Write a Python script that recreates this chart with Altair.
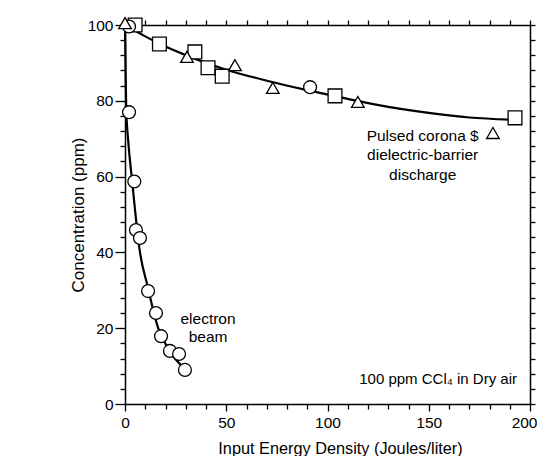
import altair as alt
import pandas as pd

# --- data ---
sq_x = [5, 17, 34.5, 41, 48, 103.7, 192.6]
sq_y = [100, 95, 92.9, 88.7, 86.5, 81.3, 75.5]

tri_x = [0, 30.6, 54.3, 73, 115, 181.7]
tri_y = [100.5, 91.6, 89.4, 83.4, 79.7, 71.5]

circ_x = [2, 91.4]
circ_y = [99.6, 83.6]

eb_x = [2, 4.6, 5.4, 7.4, 11.4, 15.3, 17.8, 22.2, 26.7, 29.6]
eb_y = [77, 58.7, 45.9, 43.8, 29.8, 24, 17.9, 14, 13.2, 9]

fit_up_x = [0, 10, 20, 35, 50, 70, 90, 110, 130, 150, 170, 192]
fit_up_y = [100, 97, 94.3, 91, 88.2, 85.3, 82.8, 80.5, 78.4, 76.8, 75.6, 75]

fit_eb_x = [0, 0.3, 0.6, 1.5, 3.3, 7.4, 11.2, 16.4, 22, 30]
fit_eb_y = [100, 88, 78, 70, 60, 40, 31, 20, 14, 9]

x_ticks = list(range(0, 201, 10))
y_ticks = list(range(0, 101, 4))

notes_text = ["Pulsed corona $", "dielectric-barrier", "discharge",
              "electron", "beam"]
notes_x = [147, 147, 147, 41, 41]
notes_y = [70.7, 65.7, 60.4, 22.4, 17.7]

corner_text = ["100 ppm CCl\u2084 in Dry air"]
corner_x = [193.6]
corner_y = [6.6]

FONT = "Liberation Sans"

xs = alt.Scale(domain=[0, 200], nice=False, zero=False)
ys = alt.Scale(domain=[0, 100], nice=False, zero=False)

common = dict(grid=False, domainColor="black", tickColor="black",
              domainWidth=1.5, tickWidth=1.3)

x_bottom = alt.Axis(
    orient="bottom", values=x_ticks, title="Input Energy Density (Joules/liter)",
    labelExpr="datum.value % 50 === 0 ? datum.label : ''",
    tickSize={"condition": {"test": "datum.value % 50 === 0", "value": 7}, "value": 5},
    labelAlign={"condition": {"test": "datum.value === 200", "value": "right"}, "value": "center"},
    labelOffset={"condition": {"test": "datum.value === 200", "value": 7}, "value": 0},
    labelColor="black", titleColor="black", labelFont=FONT, titleFont=FONT,
    labelFontSize=15.5, titleFontSize=16.3, titleFontWeight="normal",
    labelPadding=4, titlePadding=10, labelFlush=False, labelOverlap=False,
    labelBound=False, titleX=215, titleAnchor="middle", **common,
)
y_left = alt.Axis(
    orient="left", values=y_ticks, title="Concentration (ppm)",
    labelExpr="datum.value % 20 === 0 ? datum.label : ''",
    tickSize={"condition": {"test": "datum.value % 20 === 0", "value": 10}, "value": 5},
    labelColor="black", titleColor="black", labelFont=FONT, titleFont=FONT,
    labelFontSize=15.5, titleFontSize=17, titleFontWeight="normal",
    labelPadding=2, titlePadding=0, labelFlush=False, labelOverlap=False,
    labelBound=False, **common,
)
x_top = alt.Axis(orient="top", values=x_ticks, labels=False, title=None,
                 tickSize=5, **common)
y_right = alt.Axis(orient="right", values=y_ticks, labels=False, title=None,
                   tickSize=5, **common)

up_fit = pd.DataFrame({"x": fit_up_x, "y": fit_up_y})
eb_fit = pd.DataFrame({"x": fit_eb_x, "y": fit_eb_y})
sq = pd.DataFrame({"x": sq_x, "y": sq_y})
tri = pd.DataFrame({"x": tri_x, "y": tri_y})
circ = pd.DataFrame({"x": circ_x + eb_x, "y": circ_y + eb_y})
notes = pd.DataFrame({"x": notes_x, "y": notes_y, "t": notes_text})
corner = pd.DataFrame({"x": corner_x, "y": corner_y, "t": corner_text})

X = alt.X("x:Q", scale=xs, axis=None)
Y = alt.Y("y:Q", scale=ys, axis=None)

axes_bl = alt.Chart(up_fit).mark_point(opacity=0).encode(
    x=alt.X("x:Q", scale=xs, axis=x_bottom),
    y=alt.Y("y:Q", scale=ys, axis=y_left),
)
axes_tr = alt.Chart(up_fit).mark_point(opacity=0).encode(
    x=alt.X("x:Q", scale=xs, axis=x_top),
    y=alt.Y("y:Q", scale=ys, axis=y_right),
)

up_line = alt.Chart(up_fit).mark_line(
    color="black", strokeWidth=2.2, interpolate="monotone"
).encode(x=X, y=Y)

eb_line = alt.Chart(eb_fit).mark_line(
    color="black", strokeWidth=2.2, interpolate="monotone"
).encode(x=X, y=Y)

sq_pts = alt.Chart(sq).mark_point(
    shape="square", filled=True, fill="white", stroke="black",
    strokeWidth=1.3, size=190, opacity=1
).encode(x=X, y=Y)

tri_pts = alt.Chart(tri).mark_point(
    shape="triangle-up", filled=True, fill="white", stroke="black",
    strokeWidth=1.3, size=160, opacity=1
).encode(x=X, y=Y)

circ_pts = alt.Chart(circ).mark_point(
    shape="circle", filled=True, fill="white", stroke="black",
    strokeWidth=1.3, size=165, opacity=1
).encode(x=X, y=Y)

note_marks = alt.Chart(notes).mark_text(
    font=FONT, fontSize=15.5, color="black", align="center", baseline="middle"
).encode(x=X, y=Y, text="t:N")

corner_mark = alt.Chart(corner).mark_text(
    font=FONT, fontSize=15, color="black", align="right", baseline="middle"
).encode(x=X, y=Y, text="t:N")

frame_left = alt.Chart(corner).mark_rule(color="#555555", strokeWidth=1.5).encode(
    x=alt.value(-121), y=alt.value(-20), y2=alt.value(440)
)
frame_top = alt.Chart(corner).mark_rule(color="#555555", strokeWidth=1.5).encode(
    x=alt.value(-121), x2=alt.value(415), y=alt.value(-20)
)

chart = alt.layer(
    axes_bl, axes_tr, up_line, eb_line, sq_pts, circ_pts, tri_pts,
    note_marks, corner_mark, frame_left, frame_top
).resolve_axis(
    x="independent", y="independent"
).properties(
    width=405, height=379,
    autosize=alt.AutoSizeParams(type="none"),
    padding={"left": 117, "top": 17, "right": 7, "bottom": 52},
).configure_view(stroke=None).configure(background="white")

chart.save("out.html", embed_options={"renderer": "svg", "actions": False})
